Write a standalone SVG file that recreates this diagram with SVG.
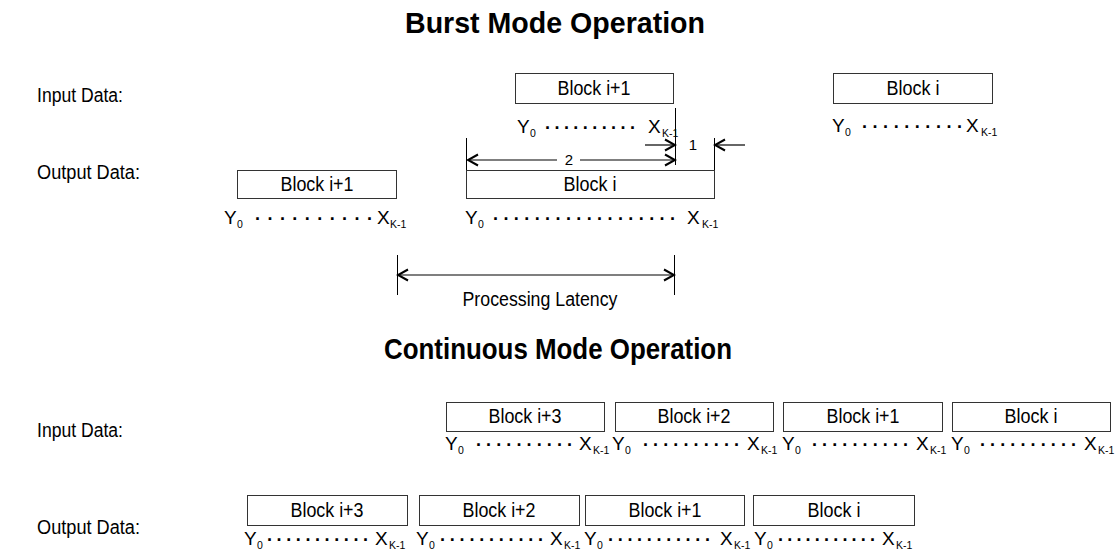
<svg xmlns="http://www.w3.org/2000/svg" width="1119" height="559" viewBox="0 0 1119 559">
<defs>
<style>
text{font-family:"Liberation Sans",Arial,sans-serif;fill:#000}
.title{font-size:30px;font-weight:bold;text-anchor:middle}
.lbl{font-size:20px}
.blk{font-size:20px;text-anchor:middle}
.box{fill:#fff;stroke:#333;stroke-width:1}
.m{font-size:19px}
.s{font-size:10.5px}
.d{font-size:18px;font-weight:bold}
.dim{font-size:15px;text-anchor:middle}
.ln{stroke:#000;stroke-width:1;fill:none}
.ar{stroke:#000;stroke-width:1.2;fill:none;marker-end:url(#ah)}
.ar2{stroke:#000;stroke-width:1.2;fill:none;marker-end:url(#ah);marker-start:url(#ah)}
</style>
<marker id="ah" viewBox="-12 -7 14 14" refX="0" refY="0" markerWidth="14" markerHeight="14" markerUnits="userSpaceOnUse" orient="auto-start-reverse">
<path d="M-10,-5.5 L0,0 L-10,5.5" fill="none" stroke="#000" stroke-width="2"/>
</marker>
</defs>
<rect width="1119" height="559" fill="#fff"/>

<text class="title" x="555" y="33" textLength="300" lengthAdjust="spacingAndGlyphs">Burst Mode Operation</text>
<text class="title" x="558" y="359" textLength="348" lengthAdjust="spacingAndGlyphs">Continuous Mode Operation</text>

<text class="lbl" x="37" y="102" textLength="86" lengthAdjust="spacingAndGlyphs">Input Data:</text>
<text class="lbl" x="37" y="179" textLength="103" lengthAdjust="spacingAndGlyphs">Output Data:</text>
<text class="lbl" x="37" y="437" textLength="86" lengthAdjust="spacingAndGlyphs">Input Data:</text>
<text class="lbl" x="37" y="534" textLength="103" lengthAdjust="spacingAndGlyphs">Output Data:</text>

<!-- Burst mode -->
<g id="burst-in-block-i1">
<rect class="box" x="515.5" y="73.5" width="158" height="30"/>
<text class="blk" x="594" y="95" textLength="73" lengthAdjust="spacingAndGlyphs">Block i+1</text>
<text class="m" x="517" y="133">Y</text><text class="s" x="530" y="137">0</text>
<text class="d" x="545" y="129" textLength="90">. . . . . . . . . .</text>
<text class="m" x="648" y="133">X</text><text class="s" x="662" y="137">K-1</text>
</g>
<g id="burst-in-block-i">
<rect class="box" x="833.5" y="73.5" width="159" height="30"/>
<text class="blk" x="913" y="95" textLength="53" lengthAdjust="spacingAndGlyphs">Block i</text>
<text class="m" x="832" y="132">Y</text><text class="s" x="845" y="136">0</text>
<text class="d" x="862" y="128" textLength="100">. . . . . . . . . .</text>
<text class="m" x="966" y="132">X</text><text class="s" x="981" y="136">K-1</text>
</g>
<g id="burst-out-block-i1">
<rect class="box" x="237.5" y="170.5" width="159" height="28"/>
<text class="blk" x="317" y="191" textLength="73" lengthAdjust="spacingAndGlyphs">Block i+1</text>
<text class="m" x="224" y="224">Y</text><text class="s" x="237" y="228">0</text>
<text class="d" x="255" y="220" textLength="117">. . . . . . . . . .</text>
<text class="m" x="377" y="224">X</text><text class="s" x="390" y="228">K-1</text>
</g>
<g id="burst-out-block-i">
<rect class="box" x="466.5" y="170.5" width="248" height="28"/>
<text class="blk" x="590" y="191" textLength="53" lengthAdjust="spacingAndGlyphs">Block i</text>
<text class="m" x="465" y="224">Y</text><text class="s" x="478" y="228">0</text>
<text class="d" x="493" y="220" textLength="182">. . . . . . . . . . . . . . . . . .</text>
<text class="m" x="687" y="224">X</text><text class="s" x="702" y="228">K-1</text>
</g>

<!-- Continuous mode input -->
<g id="cont-in-block-i3">
<rect class="box" x="446.5" y="402.5" width="158" height="29"/>
<text class="blk" x="525" y="423" textLength="73" lengthAdjust="spacingAndGlyphs">Block i+3</text>
<text class="m" x="445" y="450">Y</text><text class="s" x="458" y="454">0</text>
<text class="d" x="476" y="446" textLength="96">. . . . . . . . . .</text>
<text class="m" x="579" y="450">X</text><text class="s" x="593" y="454">K-1</text>
</g>
<g id="cont-in-block-i2">
<rect class="box" x="615.5" y="402.5" width="158" height="29"/>
<text class="blk" x="694" y="423" textLength="73" lengthAdjust="spacingAndGlyphs">Block i+2</text>
<text class="m" x="612" y="450">Y</text><text class="s" x="625" y="454">0</text>
<text class="d" x="643" y="446" textLength="96">. . . . . . . . . .</text>
<text class="m" x="747" y="450">X</text><text class="s" x="761" y="454">K-1</text>
</g>
<g id="cont-in-block-i1">
<rect class="box" x="783.5" y="402.5" width="159" height="29"/>
<text class="blk" x="863" y="423" textLength="73" lengthAdjust="spacingAndGlyphs">Block i+1</text>
<text class="m" x="782" y="450">Y</text><text class="s" x="795" y="454">0</text>
<text class="d" x="812" y="446" textLength="96">. . . . . . . . . .</text>
<text class="m" x="916" y="450">X</text><text class="s" x="930" y="454">K-1</text>
</g>
<g id="cont-in-block-i">
<rect class="box" x="952.5" y="402.5" width="158" height="29"/>
<text class="blk" x="1031" y="423" textLength="53" lengthAdjust="spacingAndGlyphs">Block i</text>
<text class="m" x="951" y="450">Y</text><text class="s" x="964" y="454">0</text>
<text class="d" x="980" y="446" textLength="96">. . . . . . . . . .</text>
<text class="m" x="1084" y="450">X</text><text class="s" x="1098" y="454">K-1</text>
</g>

<!-- Continuous mode output -->
<g id="cont-out-block-i3">
<rect class="box" x="247.5" y="495.5" width="160" height="30"/>
<text class="blk" x="327" y="517" textLength="73" lengthAdjust="spacingAndGlyphs">Block i+3</text>
<text class="m" x="244" y="545">Y</text><text class="s" x="257" y="549">0</text>
<text class="d" x="267" y="541" textLength="101">. . . . . . . . . . .</text>
<text class="m" x="375" y="545">X</text><text class="s" x="389" y="549">K-1</text>
</g>
<g id="cont-out-block-i2">
<rect class="box" x="419.5" y="495.5" width="160" height="30"/>
<text class="blk" x="499" y="517" textLength="73" lengthAdjust="spacingAndGlyphs">Block i+2</text>
<text class="m" x="416" y="545">Y</text><text class="s" x="429" y="549">0</text>
<text class="d" x="440" y="541" textLength="103">. . . . . . . . . . .</text>
<text class="m" x="550" y="545">X</text><text class="s" x="564" y="549">K-1</text>
</g>
<g id="cont-out-block-i1">
<rect class="box" x="585.5" y="495.5" width="159" height="30"/>
<text class="blk" x="665" y="517" textLength="73" lengthAdjust="spacingAndGlyphs">Block i+1</text>
<text class="m" x="584" y="545">Y</text><text class="s" x="597" y="549">0</text>
<text class="d" x="608" y="541" textLength="102">. . . . . . . . . . .</text>
<text class="m" x="720" y="545">X</text><text class="s" x="734" y="549">K-1</text>
</g>
<g id="cont-out-block-i">
<rect class="box" x="753.5" y="495.5" width="161" height="30"/>
<text class="blk" x="834" y="517" textLength="53" lengthAdjust="spacingAndGlyphs">Block i</text>
<text class="m" x="754" y="545">Y</text><text class="s" x="767" y="549">0</text>
<text class="d" x="778" y="541" textLength="97">. . . . . . . . . . .</text>
<text class="m" x="882" y="545">X</text><text class="s" x="896" y="549">K-1</text>
</g>

<!-- Connectors / dimension lines -->
<g id="connectors">
<line class="ln" x1="466.5" y1="138" x2="466.5" y2="170"/>
<line class="ln" x1="675.5" y1="108" x2="675.5" y2="165"/>
<line class="ln" x1="714.5" y1="138" x2="714.5" y2="170"/>
<line class="ar" x1="468" y1="160" x2="557" y2="160" style="marker-end:none;marker-start:url(#ah)"/>
<line class="ar" x1="580" y1="160" x2="675" y2="160"/>
<text class="dim" x="569" y="165">2</text>
<line class="ar" x1="645" y1="145" x2="675" y2="145"/>
<text class="dim" x="693" y="150">1</text>
<line class="ar" x1="745" y1="145" x2="715" y2="145"/>
<line class="ln" x1="397.5" y1="255" x2="397.5" y2="295"/>
<line class="ln" x1="674.5" y1="255" x2="674.5" y2="295"/>
<line class="ar2" x1="398" y1="275" x2="674" y2="275"/>
<text class="lbl" x="540" y="306" text-anchor="middle" textLength="155" lengthAdjust="spacingAndGlyphs">Processing Latency</text>
</g>
</svg>
